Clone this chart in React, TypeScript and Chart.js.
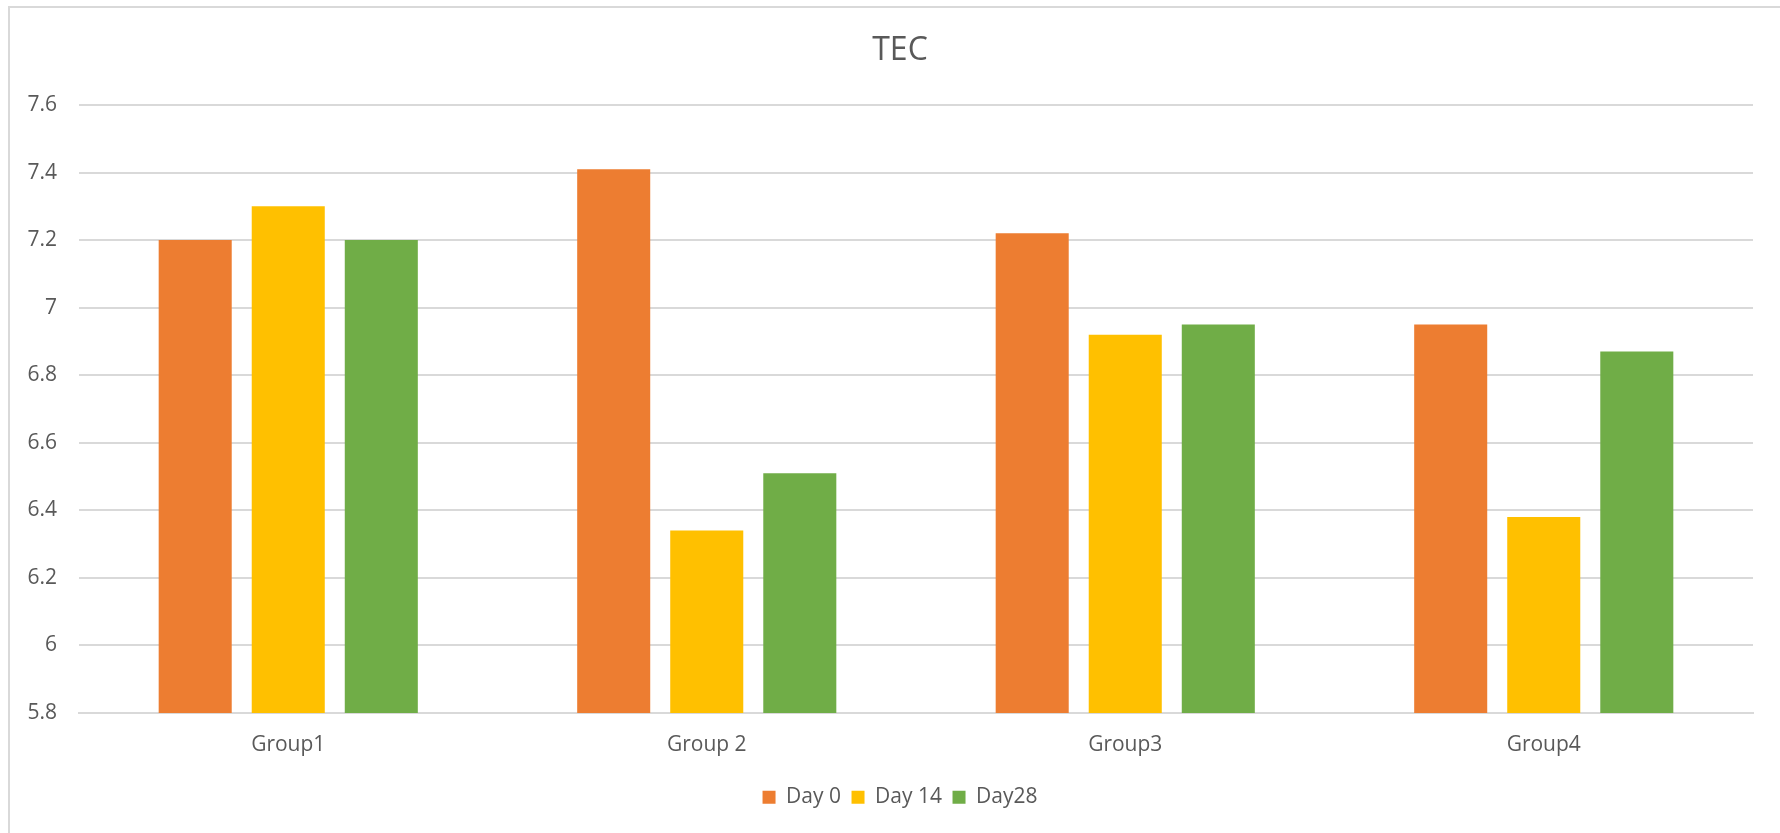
import React, { useEffect, useRef } from "react";
import { Chart, registerables } from "chart.js";

Chart.register(...registerables);

// Groups along the x axis
const categories = ["Group1", "Group 2", "Group3", "Group4"];

// TEC readings per time point
const day0 = [7.2, 7.41, 7.22, 6.95];
const day14 = [7.3, 6.34, 6.92, 6.38];
const day28 = [7.2, 6.51, 6.95, 6.87];

const seriesNames = ["Day 0", "Day 14", "Day28"];
const seriesColors = ["#ED7D31", "#FFC000", "#70AD47"];

const yMin = 5.8;
const yMax = 7.6;
const yStep = 0.2;

const TEXT = "#595959";
const GRID = "#d9d9d9";
const FONT = "'Open Sans', sans-serif";

export default function App() {
  const canvasRef = useRef<HTMLCanvasElement | null>(null);

  useEffect(() => {
    const canvas = canvasRef.current;
    if (!canvas) return;
    const values = [day0, day14, day28];
    const chart = new Chart(canvas, {
      type: "bar",
      data: {
        labels: categories,
        datasets: values.map((v, i) => ({
          label: seriesNames[i],
          data: v,
          backgroundColor: seriesColors[i],
          borderWidth: 0,
          categoryPercentage: 0.667,
          barPercentage: 0.785,
          yAxisID: "y",
        })),
      },
      options: {
        responsive: false,
        animation: false,
        maintainAspectRatio: false,
        layout: { padding: { left: 0, right: 0, top: 0, bottom: 15.2 } },
        plugins: {
          title: {
            display: true,
            text: "TEC",
            color: TEXT,
            font: { family: FONT, size: 32, weight: "normal", lineHeight: 1.2 },
            padding: { top: 24, bottom: 34.6 },
          },
          legend: {
            position: "bottom",
            labels: {
              color: TEXT,
              font: { family: FONT, size: 21 },
              boxWidth: 13,
              boxHeight: 13,
              padding: 10.6,
            },
          },
          tooltip: { enabled: false },
        },
        scales: {
          x: {
            grid: { display: false, drawTicks: false },
            border: { display: true, color: GRID, width: 2 },
            ticks: {
              color: TEXT,
              font: { family: FONT, size: 21 },
              padding: 19,
            },
          },
          y: {
            min: yMin,
            max: yMax,
            afterFit: (scale: any) => {
              scale.width = 69;
            },
            grid: { color: GRID, lineWidth: 2, drawTicks: false },
            border: { display: false },
            ticks: {
              stepSize: yStep,
              color: TEXT,
              font: { family: FONT, size: 21 },
              padding: 22,
              callback: (v: any) => String(Number(Number(v).toFixed(1))),
            },
          },
          // empty right-hand margin so the plot ends short of the frame edge
          yRight: {
            position: "right",
            afterFit: (scale: any) => {
              scale.width = 37;
            },
            grid: { display: false, drawTicks: false },
            border: { display: false },
            ticks: { display: false },
          },
        },
      },
    });
    return () => chart.destroy();
  }, []);

  return (
    <div
      style={{
        position: "fixed",
        left: 8,
        top: 6,
        width: 1800,
        height: 860,
        border: `2px solid ${GRID}`,
        background: "#fff",
      }}
    >
      <canvas
        ref={canvasRef}
        width={1780}
        height={825}
        style={{ display: "block", width: 1780, height: 825 }}
      />
    </div>
  );
}
